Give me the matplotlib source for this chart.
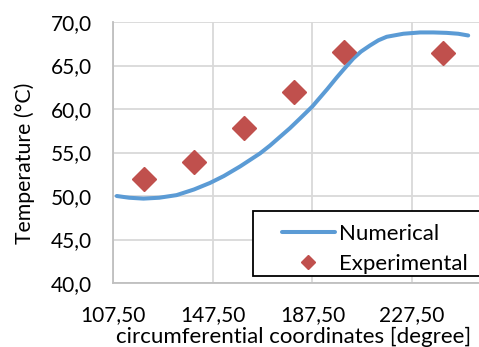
import matplotlib
matplotlib.use("Agg")
import matplotlib.pyplot as plt
import matplotlib.patches as mpatches
from matplotlib.ticker import FuncFormatter

plt.rcParams['font.family'] = ['Lato', 'DejaVu Sans']

# numerical curve
num_x = [109, 114, 119.7, 126, 133, 140, 146.4, 152, 158.5, 162.5, 166.5, 170.5,
         174.5, 178.5, 182.5, 187.5, 190.5, 193.5, 197.2, 199.9, 203.9, 207,
         210.6, 214, 217.3, 224, 230.7, 236, 241.4, 246, 250]
num_y = [50.0, 49.8, 49.7, 49.8, 50.1, 50.75, 51.5, 52.3, 53.4, 54.15, 54.9, 55.8,
         56.8, 57.8, 58.9, 60.3, 61.3, 62.3, 63.6, 64.5, 65.8, 66.6,
         67.3, 67.9, 68.3, 68.65, 68.8, 68.8, 68.75, 68.65, 68.45]

# experimental points
exp_x = [120, 140, 160, 180, 200, 240]
exp_y = [52.0, 53.9, 57.8, 61.9, 66.6, 66.4]

x_ticks = [107.5, 147.5, 187.5, 227.5]
y_ticks = [40, 45, 50, 55, 60, 65, 70]

W, H = 479, 347
fig = plt.figure(figsize=(W / 100, H / 100), dpi=100)
ax = fig.add_axes([113 / W, (H - 283) / H, (511.8 - 113) / W, (283 - 22) / H])

ax.plot(num_x, num_y, color='#5B9BD5', lw=2.9, label='Numerical', zorder=3,
        solid_capstyle='round')
ax.plot(exp_x, exp_y, ls='none', marker='D', ms=12.5, color='#C0504D',
        label='Experimental', zorder=4)

ax.set_xlim(107.5, 267.5)
ax.set_ylim(40, 70)
ax.set_xticks(x_ticks)
ax.set_yticks(y_ticks)
ax.xaxis.set_major_formatter(FuncFormatter(lambda v, p: f"{v:.2f}".replace('.', ',')))
ax.yaxis.set_major_formatter(FuncFormatter(lambda v, p: f"{v:.1f}".replace('.', ',')))
ax.tick_params(length=0, labelsize=15, colors='black')
ax.tick_params(axis='y', pad=15)
ax.tick_params(axis='x', pad=16)
ax.grid(True, color='#D9D9D9', lw=1.3)
ax.set_axisbelow(True)
for s in ['top', 'right']:
    ax.spines[s].set_visible(False)
for s in ['left', 'bottom']:
    ax.spines[s].set_color('#BFBFBF')
    ax.spines[s].set_linewidth(1.3)

fig.text(25 / W, 1 - 163 / H, 'Temperature (°C)', rotation=90,
         ha='center', va='center', fontsize=15.3)
fig.text(293.5 / W, (H - 343) / H, 'circumferential coordinates [degree]',
         ha='center', va='baseline', fontsize=16)

# legend box (runs off the right edge like the original)
box = mpatches.Rectangle((253 / W, 1 - 276 / H), 260 / W, 65 / H,
                         transform=fig.transFigure, facecolor='white',
                         edgecolor='black', lw=1.3, zorder=5)
fig.patches.append(box)
leg = fig.legend(loc='upper left', bbox_to_anchor=(266 / W, 1 - 208 / H),
                 frameon=False, fontsize=16, handlelength=2.4,
                 handletextpad=0.2, labelspacing=0.45, borderpad=0.2,
                 markerscale=0.6)
leg.set_zorder(6)

fig.savefig('out.png', dpi=100)
